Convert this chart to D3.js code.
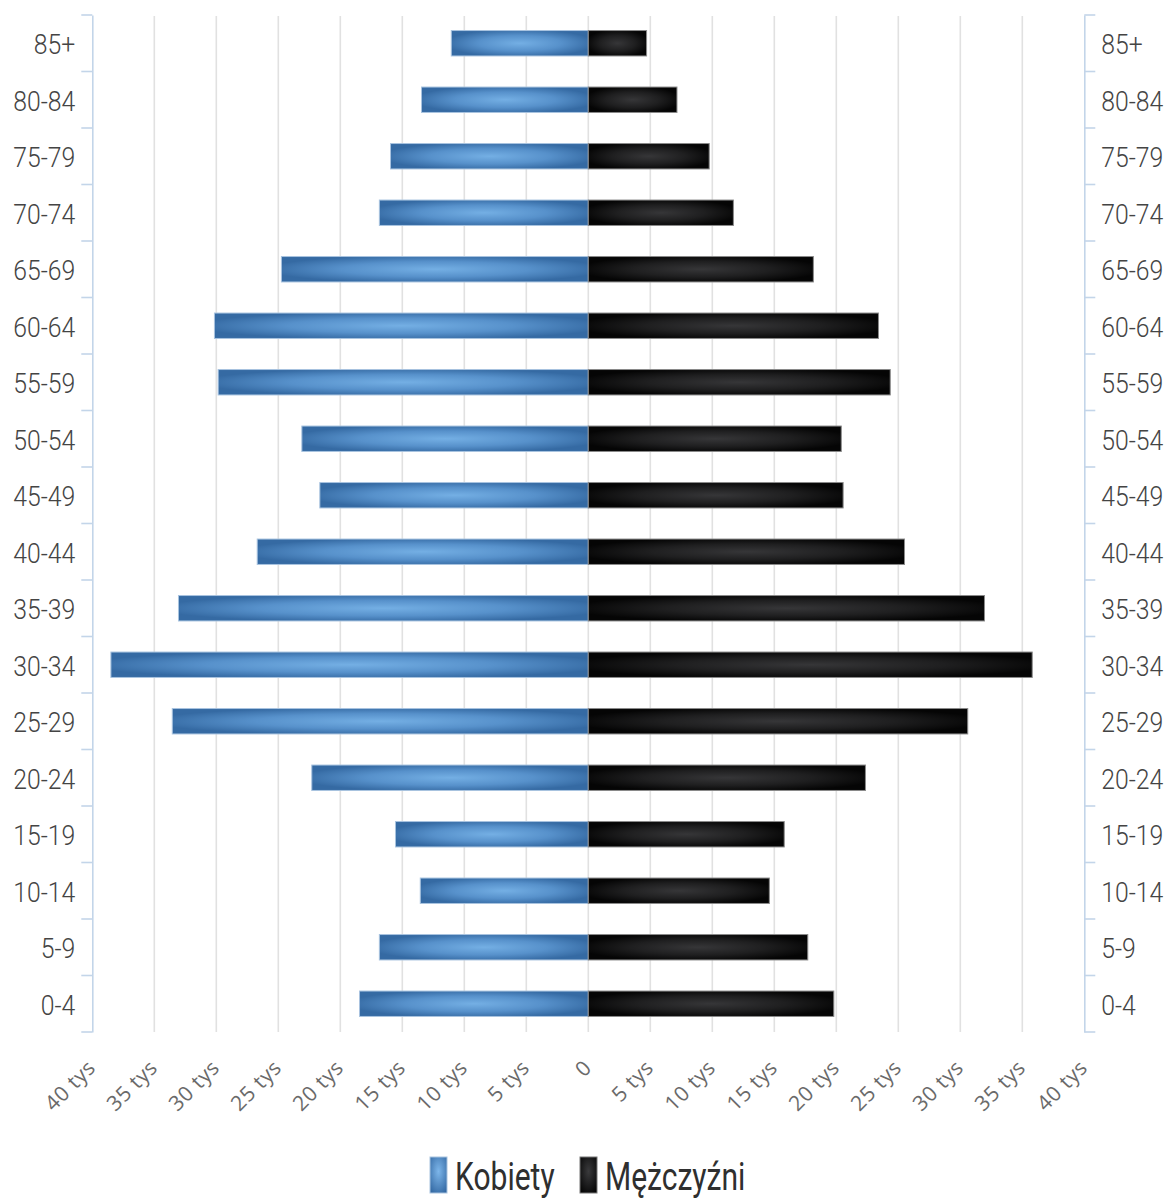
<!DOCTYPE html>
<html>
<head>
<meta charset="utf-8">
<script src="https://cdn.jsdelivr.net/npm/d3@7/dist/d3.min.js"></script>
<style>
  html, body { margin: 0; padding: 0; background: #fff; }
  svg { display: block; }
</style>
</head>
<body>
<svg id="chart" width="1169" height="1199"></svg>
<script>
// Age groups, youngest first
const ageGroups = ["0-4","5-9","10-14","15-19","20-24","25-29","30-34","35-39","40-44",
                   "45-49","50-54","55-59","60-64","65-69","70-74","75-79","80-84","85+"];
// Population in thousands
const women = [18.45, 16.85, 13.55, 15.55, 22.3, 33.55, 38.5, 33.05, 26.7,
               21.65, 23.1, 29.85, 30.15, 24.75, 16.85, 15.95, 13.45, 11.05];
const men   = [19.8, 17.7, 14.6, 15.8, 22.35, 30.6, 35.8, 31.95, 25.5,
               20.55, 20.4, 24.35, 23.4, 18.15, 11.7, 9.75, 7.15, 4.7];
const tickValues = [-40, -35, -30, -25, -20, -15, -10, -5, 0, 5, 10, 15, 20, 25, 30, 35, 40];
const tickUnit = "tys";
const seriesNames = ["Kobiety", "Mężczyźni"];

const svg = d3.select("#chart");
const plot = { left: 92.3, right: 1084.3, top: 15, bottom: 1032 };

const x = d3.scaleLinear().domain([-40, 40]).range([plot.left, plot.right]);
const y = d3.scaleBand()
  .domain(ageGroups.slice().reverse())
  .range([plot.top, plot.bottom])
  .paddingInner(0.55)
  .paddingOuter(0.275);

// Bar fills
const defs = svg.append("defs");
function radial(id, stops) {
  const g = defs.append("radialGradient").attr("id", id)
    .attr("cx", "50%").attr("cy", "50%").attr("r", "55%");
  stops.forEach(([o, c]) => g.append("stop").attr("offset", o).attr("stop-color", c));
}
radial("gWomen", [[0, "#74afe4"], [0.55, "#5791cb"], [1, "#356aa3"]]);
radial("gMen",   [[0, "#363638"], [0.55, "#1f1f20"], [1, "#050505"]]);

// Vertical grid lines
const gridVals = tickValues.filter(v => Math.abs(v) < 40);
svg.append("g").selectAll("line").data(gridVals).join("line")
  .attr("x1", d => x(d)).attr("x2", d => x(d))
  .attr("y1", plot.top + 1).attr("y2", plot.bottom)
  .attr("stroke", "#e1e1e1").attr("stroke-width", 1.6);

// Bars
svg.append("g").selectAll("rect").data(ageGroups).join("rect")
  .attr("x", (d, i) => x(-women[i]))
  .attr("width", (d, i) => x(0) - x(-women[i]))
  .attr("y", d => y(d))
  .attr("height", y.bandwidth())
  .attr("fill", "url(#gWomen)")
  .attr("stroke", "#a8c3df").attr("stroke-width", 1);

svg.append("g").selectAll("rect").data(ageGroups).join("rect")
  .attr("x", x(0))
  .attr("width", (d, i) => x(men[i]) - x(0))
  .attr("y", d => y(d))
  .attr("height", y.bandwidth())
  .attr("fill", "url(#gMen)")
  .attr("stroke", "#8a8a8a").attr("stroke-width", 1);

// Category axes on both sides
const labelFont = "Roboto, 'Noto Sans', sans-serif";
const labelSquash = 0.9;
const axisColor = "#c3d5e9";
const boundaries = ageGroups.slice().reverse().map(d => y(d) - y.step() * y.paddingInner() / 2);
boundaries.push(plot.bottom);

function categoryAxis(side) {
  const pad = 17;
  const dir = side === "left" ? -1 : 1;
  const g = svg.append("g")
    .attr("transform", `translate(${side === "left" ? plot.left : plot.right},0)`)
    .call((side === "left" ? d3.axisLeft(y) : d3.axisRight(y)).tickSize(0).tickPadding(pad));
  g.select(".domain").attr("stroke", axisColor).attr("stroke-width", 1.6);
  g.selectAll(".tick text")
    .attr("font-family", labelFont).attr("font-size", 27.5)
    .attr("font-weight", 300)
    .attr("fill", "#444")
    .attr("x", dir * pad / labelSquash)
    .attr("dy", "0.4em")
    .attr("transform", `scale(${labelSquash},1)`);
  g.selectAll(".bnd").data(boundaries).join("line").attr("class", "bnd")
    .attr("x1", 0).attr("x2", dir * 11)
    .attr("y1", d => d).attr("y2", d => d)
    .attr("stroke", axisColor).attr("stroke-width", 1.6);
}
categoryAxis("left");
categoryAxis("right");

// Value axis with rotated labels
const xAxis = svg.append("g")
  .attr("transform", `translate(0,${plot.bottom})`)
  .call(d3.axisBottom(x).tickValues(tickValues).tickSize(0).tickPadding(0)
    .tickFormat(v => v === 0 ? "0" : `${Math.abs(v)} ${tickUnit}`));
xAxis.select(".domain").remove();
xAxis.selectAll("text")
  .attr("font-family", "'Open Sans', sans-serif")
  .attr("font-size", 21)
  .attr("letter-spacing", 0.6)
  .attr("fill", "#6a6a6a")
  .attr("text-anchor", "end")
  .attr("dy", null).attr("y", null)
  .attr("transform", "translate(4,37) rotate(-45)");

// Legend
const legend = svg.append("g").attr("transform", "translate(430,1157)");
function legendGrad(id, stops) {
  const g = defs.append("radialGradient").attr("id", id)
    .attr("cx", "50%").attr("cy", "40%").attr("r", "70%");
  stops.forEach(([o, c]) => g.append("stop").attr("offset", o).attr("stop-color", c));
}
legendGrad("gWomenL", [[0, "#7db6ea"], [1, "#3469a3"]]);
legendGrad("gMenL", [[0, "#3a3a3c"], [1, "#050505"]]);
const legendItems = [
  { name: seriesNames[0], fill: "url(#gWomenL)", stroke: "#a8c3df", x: 0 },
  { name: seriesNames[1], fill: "url(#gMenL)", stroke: "#777", x: 150 }
];
const li = legend.selectAll("g").data(legendItems).join("g")
  .attr("transform", d => `translate(${d.x},0)`);
li.append("rect").attr("width", 17).attr("height", 36).attr("fill", d => d.fill)
  .attr("stroke", d => d.stroke).attr("stroke-width", 1);
li.append("text")
  .attr("transform", "translate(25,33) scale(0.79,1)")
  .attr("font-family", labelFont).attr("font-size", 38)
  .attr("fill", "#2f2f2f")
  .text(d => d.name);
</script>
</body>
</html>
